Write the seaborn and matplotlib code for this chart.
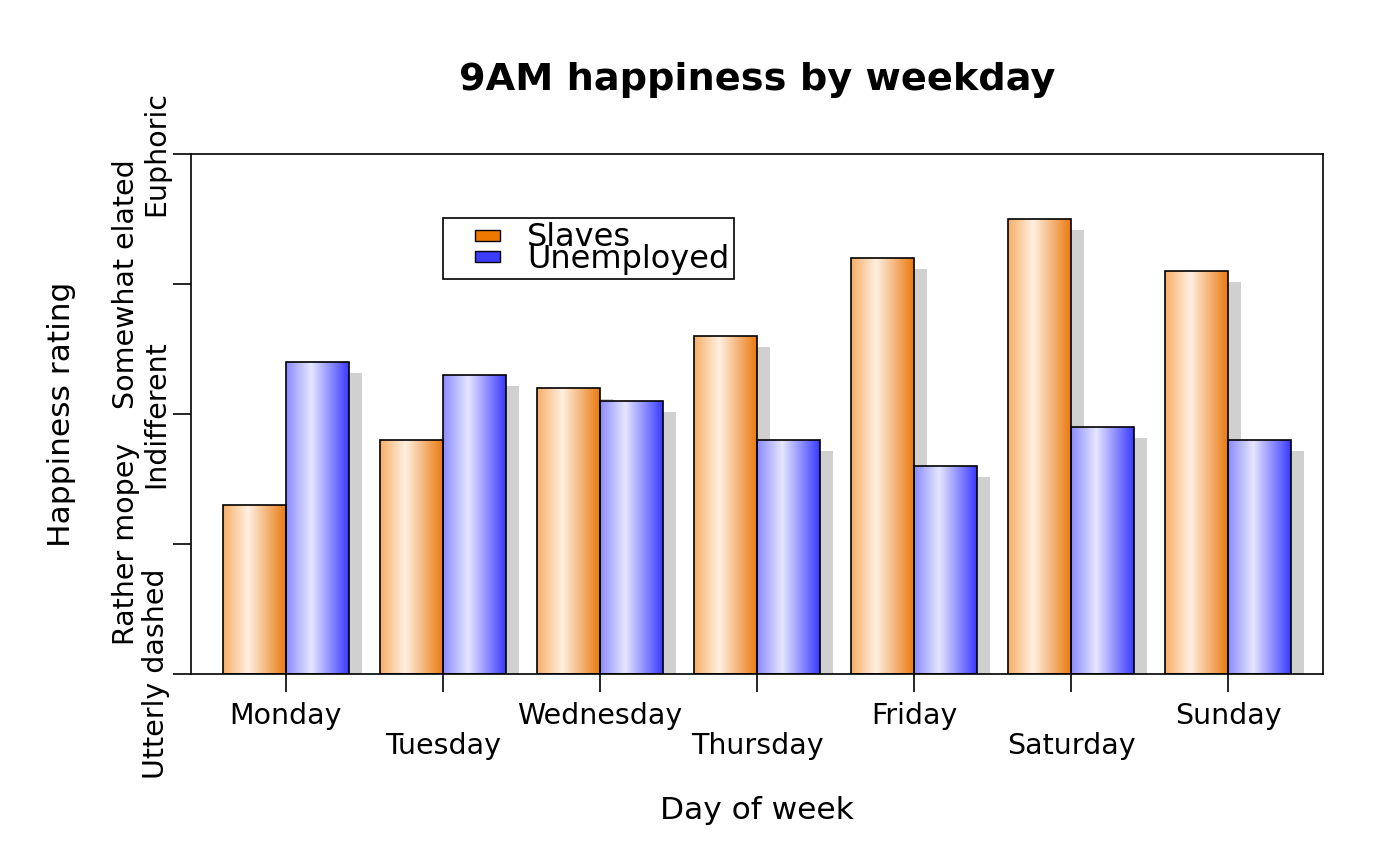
import numpy as np
import pandas as pd
import matplotlib
matplotlib.use("Agg")
import matplotlib.pyplot as plt
import seaborn as sns
from matplotlib.colors import LinearSegmentedColormap, to_rgba
from matplotlib.patches import Rectangle, Patch
from matplotlib.transforms import offset_copy
from matplotlib.legend_handler import HandlerPatch

# data
days = ["Monday", "Tuesday", "Wednesday", "Thursday", "Friday", "Saturday", "Sunday"]
slaves = [1.3, 1.8, 2.2, 2.6, 3.2, 3.5, 3.1]
unemployed = [2.4, 2.3, 2.1, 1.8, 1.6, 1.9, 1.8]
groups = ["Slaves", "Unemployed"]
mood_labels = ["Utterly dashed", "Rather mopey", "Indifferent", "Somewhat elated", "Euphoric"]

df = pd.DataFrame({
    "day": days * 2,
    "rating": slaves + unemployed,
    "group": ["Slaves"] * len(days) + ["Unemployed"] * len(days),
})

orange = "#ee7700"
blue = "#3c3cff"

sns.set_theme(style="ticks")
plt.rcParams["font.family"] = ["DejaVu Sans"]
for k in ["text.color", "axes.labelcolor", "xtick.color", "ytick.color"]:
    plt.rcParams[k] = "black"

fig = plt.figure(figsize=(14, 8.66), dpi=100)
ax = fig.add_axes([191 / 1400, 192 / 866, 1132 / 1400, 520 / 866])

sns.barplot(data=df, x="day", y="rating", hue="group", order=days,
            hue_order=groups, palette=[orange, blue], saturation=1,
            width=0.8, edgecolor="black", linewidth=1.2, legend=False, ax=ax)

# gradient fills like plotrix barp
cmaps = {
    "o": LinearSegmentedColormap.from_list("og", [(0.0, "#f7ae66"), (0.4, "#fff0e2"), (1.0, "#ea7a10")]),
    "b": LinearSegmentedColormap.from_list("bg", [(0.0, "#8a8aff"), (0.4, "#e6e6ff"), (1.0, "#3a3aff")]),
}
grad = np.linspace(0, 1, 256).reshape(1, -1)
shadow_tr = offset_copy(ax.transData, fig=fig, x=13, y=-11, units="dots")
bars = list(ax.patches)
for p in bars:
    x, w, h = p.get_x(), p.get_width(), p.get_height()
    key = "o" if np.allclose(p.get_facecolor(), to_rgba(orange)) else "b"
    ax.add_patch(Rectangle((x, 0), w, h, transform=shadow_tr,
                           facecolor="#d0d0d0", edgecolor="none", zorder=1))
    im = ax.imshow(grad, extent=[x, x + w, 0, h], cmap=cmaps[key],
                   aspect="auto", zorder=2, interpolation="bilinear")
    im.set_clip_path(p)
    p.set_facecolor("none")
    p.set_zorder(3)

ax.set_xlim(-0.605, len(days) - 1 + 0.605)
ax.set_ylim(0, 4)
ax.set_aspect("auto")

# axes styling
for s in ax.spines.values():
    s.set_color("black")
    s.set_linewidth(1.2)
ax.tick_params(axis="both", length=13, width=1.2, color="black", labelsize=20.5)

ax.set_xticks(range(len(days)))
ax.set_xticklabels(days)
for i, t in enumerate(ax.xaxis.get_major_ticks()):
    t.set_pad(7.5 if i % 2 == 0 else 29)

ax.set_yticks(range(len(mood_labels)))
ax.set_yticklabels(mood_labels, rotation=90, va="center")
for i, t in enumerate(ax.yaxis.get_major_ticks()):
    t.set_pad(2 if i % 2 == 0 else 23.5)

ax.set_title("9AM happiness by weekday", fontsize=27.5, fontweight="bold", pad=46)
ax.set_xlabel("Day of week", fontsize=22.5, labelpad=26)
ax.set_ylabel("Happiness rating", fontsize=22.5, labelpad=26)


def small_box(legend, orig_handle, xdescent, ydescent, width, height, fontsize):
    # little key box sitting at the right end of the handle area
    bw, bh = 18, 8
    return Rectangle((width - bw - xdescent, (height - bh) / 2 - ydescent), bw, bh)


handles = [Patch(facecolor=orange, edgecolor="black", linewidth=1),
           Patch(facecolor=blue, edgecolor="black", linewidth=1)]
leg = ax.legend(handles=handles, labels=groups, loc="upper left",
                bbox_to_anchor=(252 / 1132, 456 / 520), borderaxespad=0,
                fontsize=23, labelspacing=-0.31, handlelength=1.65,
                handleheight=0.6, handletextpad=0.85, borderpad=0.14,
                fancybox=False, framealpha=1, edgecolor="black",
                handler_map={Patch: HandlerPatch(patch_func=small_box)})
leg.get_frame().set_linewidth(1.2)

fig.savefig("out.png", dpi=100)
